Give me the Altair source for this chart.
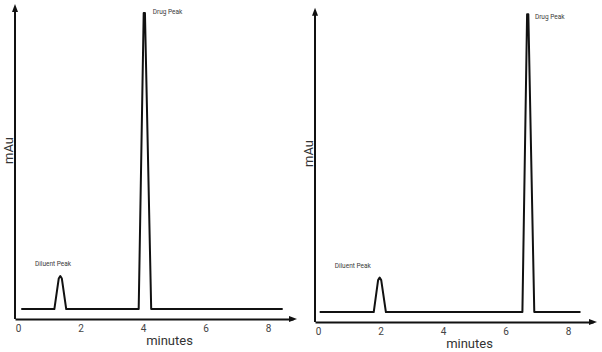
import altair as alt
import pandas as pd

# ---- data ----
left_t = [0.10, 1.16, 1.30, 1.35, 1.40, 1.54, 3.86, 4.02, 4.06, 4.26, 8.47]
left_mau = [3.2, 3.2, 13.0, 13.8, 13.0, 3.2, 3.2, 98.4, 98.4, 3.2, 3.2]
right_t = [0.05, 1.78, 1.92, 1.97, 2.02, 2.17, 6.54, 6.69, 6.73, 6.92, 8.40]
right_mau = [3.2, 3.2, 13.5, 14.3, 13.5, 3.2, 3.2, 99.2, 99.2, 3.2, 3.2]

label_text = ["Diluent Peak", "Drug Peak"]
left_label_t = [0.54, 4.31]
left_label_mau = [17.7, 98.7]
right_label_t = [0.53, 6.94]
right_label_mau = [18.0, 98.3]

x_ticks = [0, 2, 4, 6, 8]
x_domain = [-0.1, 8.8]
y_axis_top = 100

FONT = "Roboto"
W = 278

ARROW_RIGHT = "M1,0L-1,0.75L-1,-0.75Z"
ARROW_UP = "M0,-1L0.75,1L-0.75,1Z"


def panel(t, mau, lt, lm, height, y_max, title_y):
    xs = alt.Scale(domain=x_domain, nice=False, zero=False)
    ys = alt.Scale(domain=[0, y_max], nice=False, zero=False)
    xaxis = alt.Axis(values=x_ticks, title="minutes", grid=False, ticks=False, tickSize=0,
                     domainColor="#111", domainWidth=2, labelFont=FONT, labelFontSize=10,
                     labelColor="#444", labelPadding=4, titleFont=FONT, titleFontSize=13,
                     titleFontWeight="normal", titleColor="#333", titleX=154, titleY=21,
                     titleAlign="center", titleBaseline="middle")
    yaxis = alt.Axis(labels=False, ticks=False, tickSize=0, grid=False, title="mAu",
                     domain=False, titleFont=FONT, titleFontSize=13,
                     titleFontWeight="normal", titleColor="#333", titleX=-7, titleY=title_y,
                     titleAngle=270, titleAlign="center", titleBaseline="middle")
    df = pd.DataFrame({"t": t, "mau": mau})
    line = alt.Chart(df).mark_line(color="#111", strokeWidth=2, strokeJoin="round").encode(
        x=alt.X("t:Q", scale=xs, axis=xaxis),
        y=alt.Y("mau:Q", scale=ys, axis=yaxis),
    )
    ldf = pd.DataFrame({"t": lt, "mau": lm, "label": label_text})
    text = alt.Chart(ldf).mark_text(align="left", baseline="middle", font=FONT,
                                    fontSize=6.5, fill="#3a3a3a").encode(
        x=alt.X("t:Q", scale=xs), y=alt.Y("mau:Q", scale=ys), text="label:N")
    rdf = pd.DataFrame({"t": [x_domain[0]], "y0": [0], "y1": [y_axis_top]})
    yline = alt.Chart(rdf).mark_rule(color="#111", strokeWidth=2).encode(
        x=alt.X("t:Q", scale=xs), y=alt.Y("y0:Q", scale=ys), y2="y1:Q")
    adf_r = pd.DataFrame({"t": [x_domain[1]], "mau": [0]})
    adf_u = pd.DataFrame({"t": [x_domain[0]], "mau": [y_axis_top]})
    arr_r = alt.Chart(adf_r).mark_point(shape=ARROW_RIGHT, size=64, filled=True,
                                        color="#111", opacity=1).encode(
        x=alt.X("t:Q", scale=xs), y=alt.Y("mau:Q", scale=ys))
    arr_u = alt.Chart(adf_u).mark_point(shape=ARROW_UP, size=64, filled=True,
                                        color="#111", opacity=1).encode(
        x=alt.X("t:Q", scale=xs), y=alt.Y("mau:Q", scale=ys))
    return alt.layer(line, yline, text, arr_r, arr_u).properties(width=W, height=height)


left = panel(left_t, left_mau, left_label_t, left_label_mau, 311, 100, 142)
right = panel(right_t, right_mau, right_label_t, right_label_mau, 314, 101.2, 145)

chart = alt.hconcat(left, right, spacing=5).properties(
    padding={"left": 2, "top": 4, "right": 0, "bottom": 0}
).configure_view(stroke=None)

chart.save("out.html", embed_options={"renderer": "svg", "actions": False})
